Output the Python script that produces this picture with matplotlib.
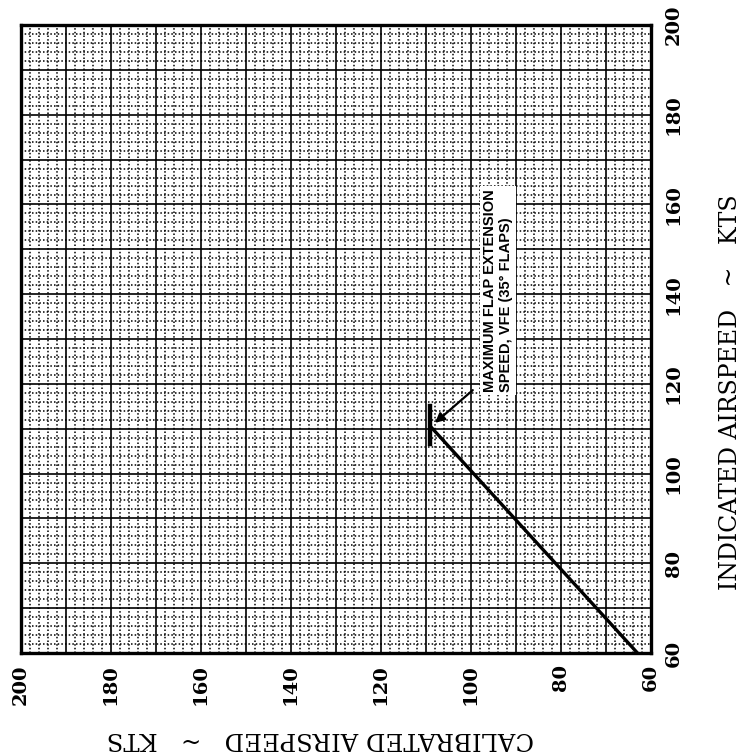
import numpy as np
import matplotlib
matplotlib.use('Agg')
import matplotlib.pyplot as plt
from matplotlib.ticker import MultipleLocator, FuncFormatter

# Airspeed calibration (flaps 35), sheet printed sideways
cas_line = [63, 109]        # calibrated airspeed, kts
ias_line = [60, 110.5]      # indicated airspeed, kts

vfe_cas = 109
vfe_ias_span = [106.5, 115]

tick_values = [60, 80, 100, 120, 140, 160, 180, 200]

serif = ['DejaVu Serif']
narrow = ['Liberation Sans Narrow', 'Liberation Sans', 'DejaVu Sans']

fig = plt.figure(figsize=(7.45, 7.55), dpi=100)
ax = fig.add_axes([0.0282, 0.1351, 0.8456, 0.8318])

ax.set_xlim(200, 60)
ax.set_ylim(60, 200)

for axis in (ax.xaxis, ax.yaxis):
    axis.set_major_locator(MultipleLocator(10))
    axis.set_minor_locator(MultipleLocator(2))
    axis.set_major_formatter(FuncFormatter(
        lambda v, p: f'{v:.0f}' if round(v) in tick_values else ''))

ax.grid(which='major', color='black', linewidth=1.2)
ax.grid(which='minor', color='black', linewidth=1.1, linestyle=(0, (1.0, 1.4)))
ax.set_axisbelow(True)

ax.yaxis.tick_right()
ax.tick_params(which='both', length=0)
ax.tick_params(axis='x', pad=8)
ax.tick_params(axis='y', pad=10)
for lab in ax.get_xticklabels():
    lab.set_rotation(90)
    lab.set_family(serif)
    lab.set_fontsize(14)
    lab.set_fontweight('bold')
    lab.set_va('top')
    lab.set_ha('center')
for lab in ax.get_yticklabels():
    lab.set_rotation(90)
    lab.set_family(serif)
    lab.set_fontsize(14)
    lab.set_fontweight('bold')
    lab.set_va('center')
    lab.set_ha('left')

for s in ax.spines.values():
    s.set_linewidth(2.4)

# calibration curve and flap limit marker
ax.plot(cas_line, ias_line, color='black', linewidth=2.4, solid_capstyle='butt', zorder=3)
ax.plot([vfe_cas, vfe_cas], vfe_ias_span, color='black', linewidth=3.2, zorder=3)

ax.annotate('', xy=(108, 111.3), xytext=(99.6, 118.6),
            arrowprops=dict(arrowstyle='-|>', color='black', lw=1.6,
                            mutation_scale=14, shrinkA=0, shrinkB=0), zorder=4)
ax.text(94, 118.2, 'MAXIMUM FLAP EXTENSION\nSPEED, VFE (35° FLAPS)',
        rotation=90, ha='center', va='bottom', multialignment='left',
        family=narrow, fontsize=10.5, fontweight='bold', linespacing=1.15,
        bbox=dict(facecolor='white', edgecolor='none', pad=2), zorder=4)

fig.text(0.43, 0.0225, 'CALIBRATED AIRSPEED   ~   KTS', rotation=180,
         ha='center', va='center', family=serif, fontsize=17.5)
fig.text(0.98, 0.48, 'INDICATED AIRSPEED   ~   KTS', rotation=90,
         ha='center', va='center', family=serif, fontsize=17)

fig.savefig('out.png', dpi=100, facecolor='white')
